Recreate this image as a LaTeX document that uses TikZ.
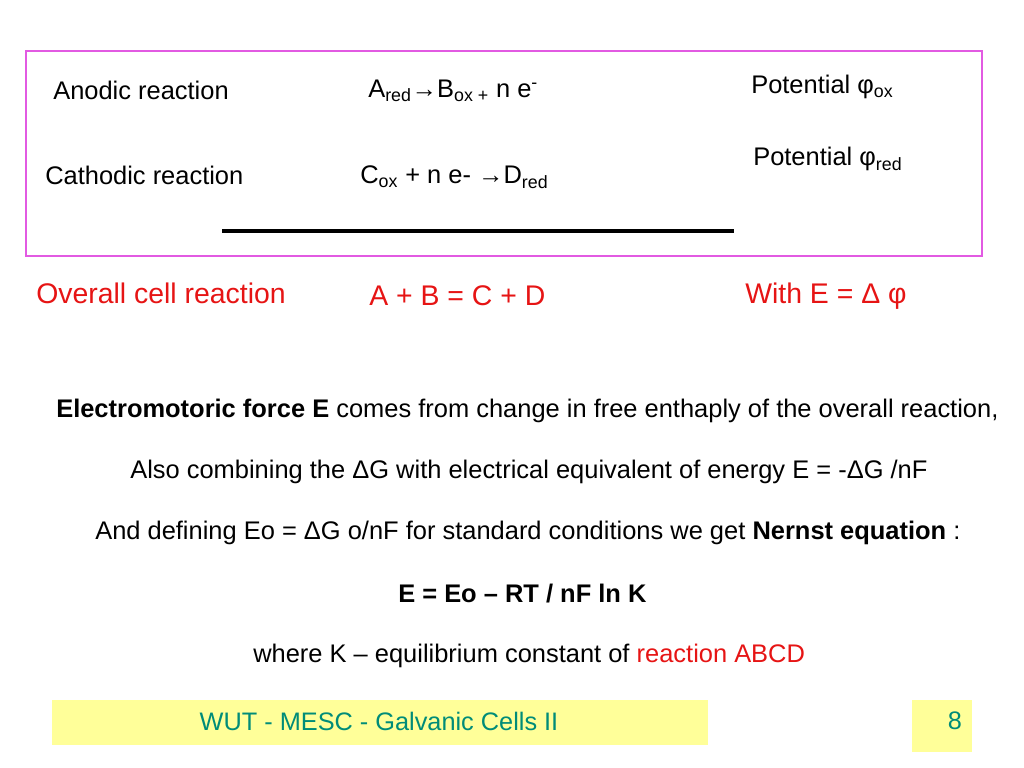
\documentclass[tikz,border=0pt]{standalone}
\usepackage{fontspec}
\setmainfont{Liberation Sans}
\usepackage{xcolor}
\definecolor{boxpink}{RGB}{226,90,226}
\definecolor{slidered}{RGB}{230,20,20}
\definecolor{footyellow}{RGB}{255,255,153}
\definecolor{footteal}{RGB}{0,140,120}
\tikzset{txt/.style={anchor=west,inner sep=0pt,font=\fontsize{18.1}{22}\selectfont}}
\tikzset{redtxt/.style={txt,text=slidered,font=\fontsize{20.2}{24}\selectfont}}
\tikzset{foot/.style={fill=footyellow,draw=none}}
\tikzset{foottxt/.style={anchor=center,inner sep=0pt,text=footteal,font=\fontsize{18}{22}\selectfont}}
\newcommand{\sub}[1]{\textsubscript{#1}}
\newcommand{\sups}[1]{\textsuperscript{#1}}
\begin{document}
\begin{tikzpicture}[x=0.025cm,y=-0.025cm]
      \useasboundingbox (0,0) rectangle (1024,768);
      \draw [boxpink,line width=1pt] (26,51) rectangle (982,256);
      \coordinate (lineL) at (222,231);
      \coordinate (lineR) at (734,231);
      \draw [line width=2.3pt] (lineL) -- (lineR);
      \node [txt] (anodic) at (53,90) {Anodic reaction};
      \node [txt] (anodeq) at (368,91) {A\sub{red}→B\sub{ox +} n e\sups{-}};
      \node [txt] (potox) at (751,87) {Potential φ\sub{ox}};
      \node [txt] (cathodic) at (45,175) {Cathodic reaction};
      \node [txt] (cathodeq) at (360,177) {C\sub{ox} + n e- →D\sub{red}};
      \node [txt] (potred) at (753,159) {Potential φ\sub{red}};
      \node [redtxt] (overall) at (36,293) {Overall cell reaction};
      \node [redtxt] (abcd) at (369,296) {A + B = C + D};
      \node [redtxt] (withE) at (745,296) {With E = Δ φ};
      \node [txt] (emf) at (56,411) {\textbf{Electromotoric force E} comes from change in free enthaply of the overall reaction,};
      \node [txt] (combine) at (130,472) {Also combining the ΔG with electrical equivalent of energy E = -ΔG /nF};
      \node [txt] (define) at (95,533) {And defining Eo = ΔG o/nF for standard conditions we get \textbf{Nernst equation} :};
      \node [txt] (nernst) at (398,594) {\textbf{E = Eo – RT / nF ln K}};
      \node [txt] (whereK) at (253,656) {where K – equilibrium constant of \textcolor{slidered}{reaction ABCD}};
      \fill [foot] (52,700) rectangle (708,745);
      \fill [foot] (912,700) rectangle (972,752);
      \node [foottxt] (title) at (379,721) {WUT - MESC - Galvanic Cells II};
      \node [foottxt] (page) at (955,721) {8};
    \end{tikzpicture}
\end{document}
